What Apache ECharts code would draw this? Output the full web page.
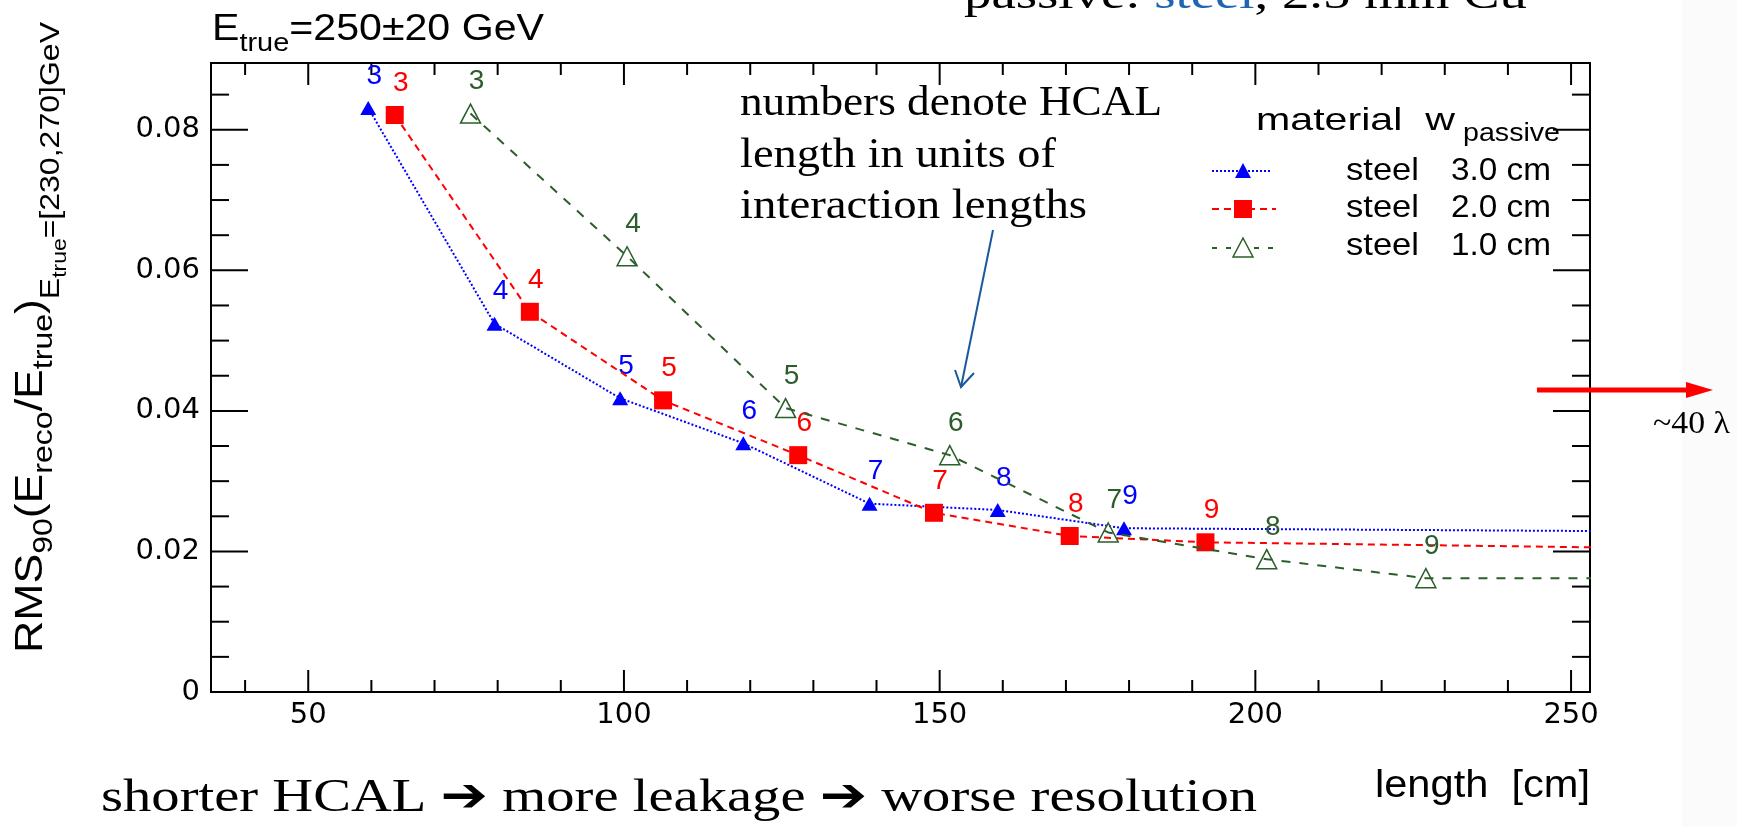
<!DOCTYPE html>
<html><head><meta charset="utf-8">
<script src="https://cdn.jsdelivr.net/npm/echarts@6/dist/echarts.min.js"></script>
<style>html,body{margin:0;padding:0;background:#fff}#c{width:1737px;height:827px}</style>
</head><body><div id="c"></div>
<script>
// ---------------- data ----------------
const lambdas = [3, 4, 5, 6, 7, 8, 9];
const blueX  = [59.5, 79.5, 99.4, 118.9, 138.9, 159.2, 179.2];
const blueY  = [0.0831, 0.0524, 0.0418, 0.0354, 0.0268, 0.0259, 0.0233];
const redX   = [63.7, 85.1, 106.2, 127.6, 149.1, 170.6, 192.1];
const redY   = [0.0821, 0.0541, 0.0415, 0.0337, 0.0255, 0.0222, 0.0213];
const greenX = [75.7, 100.5, 125.6, 151.6, 176.7, 201.8, 227.0];
const greenY = [0.0823, 0.0620, 0.0404, 0.0337, 0.0227, 0.0189, 0.0162];
// ~40 lambda points, far to the right of the visible range
const blueFar  = [798, 0.0200];
const redFar   = [856, 0.0136];
const greenFar = [1009, 0.0160];
const legendMaterial = ['steel', 'steel', 'steel'];
const legendWidth = ['3.0 cm', '2.0 cm', '1.0 cm'];
const X_MIN = 34.6, X_MAX = 253, Y_MIN = 0, Y_MAX = 0.0895;

// ---------------- helpers ----------------
const BLUE = '#0000ff', RED = '#ff0000', GREEN = '#2b5e2b';
const SANS = 'Liberation Sans', SERIF = 'Liberation Serif', AXF = 'DejaVu Sans';
const mctx = document.createElement('canvas').getContext('2d');
function tw(t, size, fam) { mctx.font = size + 'px ' + fam; return mctx.measureText(t).width; }
// parts: {t, s, dy, c, f}; placed along a baseline
function textRun(parts, x0, base, opts) {
  opts = opts || {};
  const fam = opts.f || SANS;
  let widths = parts.map(p => tw(p.t, p.s, p.f || fam));
  const total = widths.reduce((a, b) => a + b, 0);
  const sx = opts.width ? opts.width / total : (opts.sx || 1);
  let cx = x0;
  const out = [];
  parts.forEach((p, i) => {
    out.push({type: 'text', x: cx, y: base + (p.dy || 0) - 0.34 * p.s, scaleX: sx, silent: true,
      style: {text: p.t, fontSize: p.s, fontFamily: p.f || fam, fill: p.c || opts.c || '#000',
              align: 'left', verticalAlign: 'middle'}});
    cx += widths[i] * sx;
  });
  return out;
}

const chart = echarts.init(document.getElementById('c'), null, {renderer: 'canvas'});

function makeSeries(name, xs, ys, far, color, symbol, size, itemStyle, dash, width, z) {
  const data = xs.map((x, i) => ({name: String(lambdas[i]), value: [x, ys[i]]}));
  data.push({name: '', value: far, symbol: 'none', label: {show: false}});
  return {
    type: 'line', name, data, symbol, symbolSize: size, showSymbol: true, z,
    clip: true, animation: false, emphasis: {disabled: true},
    itemStyle: itemStyle,
    lineStyle: {color, width, type: dash},
    label: {show: true, position: 'inside', offset: [6, -32], formatter: '{b}',
            color, fontSize: 28, fontFamily: SANS}
  };
}

// tick marks (ROOT style, inside, on all four sides)
const tickData = [];
for (let v = 40; v <= 250; v += 10) tickData.push([0, v, v % 50 === 0 ? 1 : 0]);
for (let k = 1; k <= 17; k++) tickData.push([1, +(k * 0.005).toFixed(3), k % 4 === 0 ? 1 : 0]);

const st = {stroke: '#000', lineWidth: 2};
const tickSeries = {
  type: 'custom', coordinateSystem: 'cartesian2d', data: tickData, silent: true, z: 1,
  renderItem(params, api) {
    const kind = api.value(0), v = api.value(1), major = api.value(2);
    if (kind === 0) {
      const b = api.coord([v, Y_MIN]), t = api.coord([v, Y_MAX]);
      const L = major ? 22 : 12;
      return {type: 'group', children: [
        {type: 'line', shape: {x1: b[0], y1: b[1], x2: b[0], y2: b[1] - L}, style: st},
        {type: 'line', shape: {x1: t[0], y1: t[1], x2: t[0], y2: t[1] + L}, style: st}]};
    }
    const l = api.coord([X_MIN, v]), r = api.coord([X_MAX, v]);
    const L = major ? 37 : 18;
    return {type: 'group', children: [
      {type: 'line', shape: {x1: l[0], y1: l[1], x2: l[0] + L, y2: l[1]}, style: st},
      {type: 'line', shape: {x1: r[0], y1: r[1], x2: r[0] - L, y2: r[1]}, style: st}]};
  }
};

// ---------------- graphics (texts, legend, arrows) ----------------
const g = [];
g.push({type: 'rect', shape: {x: 1682, y: 0, width: 55, height: 827}, style: {fill: '#fbfbfb'}, z: -10, silent: true});
// top partially cut text
g.push(...textRun([{t: 'passive: ', s: 42}, {t: 'steel', s: 42, c: '#1f66b0'}, {t: ', 2.5 mm Cu', s: 42}], 964, 11, {f: SERIF, width: 563}));
// title
g.push(...textRun([{t: 'E', s: 37}, {t: 'true', s: 26, dy: 11}, {t: '=250\u00b120 GeV', s: 37}], 212, 42, {width: 332}));
// y axis title (rotated)
g.push({type: 'group', x: 45, y: 653, rotation: Math.PI / 2, children: textRun([
  {t: 'RMS', s: 39}, {t: '90', s: 28, dy: 9}, {t: '(E', s: 39}, {t: 'reco', s: 28, dy: 9},
  {t: '/E', s: 39}, {t: 'true', s: 28, dy: 9}, {t: ')', s: 39},
  {t: 'E', s: 28, dy: 16}, {t: 'true', s: 20, dy: 22}, {t: '=[230,270]GeV', s: 28, dy: 16}], 0, 0, {width: 631})});
// x axis title
g.push(...textRun([{t: 'length  [cm]', s: 39}], 1375, 800, {width: 215}));
// bottom text
g.push(...textRun([{t: 'shorter HCAL \u2794 more leakage \u2794 worse resolution', s: 47}], 101, 815, {f: SERIF + ', DejaVu Sans', width: 1156}));
// annotation
g.push(...textRun([{t: 'numbers denote HCAL', s: 42}], 740, 118, {f: SERIF, width: 422}));
g.push(...textRun([{t: 'length in units of', s: 42}], 740, 170, {f: SERIF, width: 316}));
g.push(...textRun([{t: 'interaction lengths', s: 42}], 740, 221, {f: SERIF, width: 347}));
const AB = '#1a5a9a';
g.push({type: 'line', shape: {x1: 993, y1: 230, x2: 961, y2: 387}, style: {stroke: AB, lineWidth: 2}, silent: true});
g.push({type: 'polyline', shape: {points: [[955, 370], [961, 387], [974, 373]]}, style: {stroke: AB, lineWidth: 2, fill: null}, silent: true});
// red arrow on right
g.push({type: 'line', shape: {x1: 1537, y1: 390, x2: 1690, y2: 390}, style: {stroke: '#ff0000', lineWidth: 5}, silent: true, z: 5});
g.push({type: 'polygon', shape: {points: [[1686, 382], [1713, 390], [1686, 398]]}, style: {fill: '#ff0000'}, silent: true, z: 5});
g.push(...textRun([{t: '~40 \u03bb', s: 32}], 1653, 435, {f: SERIF, width: 77}));
// legend
g.push(...textRun([{t: 'material  w', s: 32}], 1256, 132, {width: 199}));
g.push(...textRun([{t: 'passive', s: 25}], 1463, 143, {width: 97}));
const rowY = [171, 209, 248];
const rowBase = [182, 219, 257];
for (let i = 0; i < 3; i++) {
  g.push(...textRun([{t: legendMaterial[i], s: 32}], 1346, rowBase[i], {width: 73}));
  g.push(...textRun([{t: legendWidth[i], s: 32}], 1451, rowBase[i], {width: 100}));
}
g.push({type: 'line', shape: {x1: 1212, y1: rowY[0], x2: 1272, y2: rowY[0]}, style: {stroke: BLUE, lineWidth: 2, lineDash: [2, 2]}, silent: true});
g.push({type: 'polygon', shape: {points: [[1243, rowY[0] - 8], [1235, rowY[0] + 7], [1251, rowY[0] + 7]]}, style: {fill: BLUE}, silent: true});
g.push({type: 'line', shape: {x1: 1212, y1: rowY[1], x2: 1276, y2: rowY[1]}, style: {stroke: RED, lineWidth: 2, lineDash: [7, 5]}, silent: true});
g.push({type: 'rect', shape: {x: 1234, y: rowY[1] - 9, width: 18, height: 18}, style: {fill: RED}, silent: true});
g.push({type: 'line', shape: {x1: 1212, y1: rowY[2], x2: 1276, y2: rowY[2]}, style: {stroke: GREEN, lineWidth: 2, lineDash: [5, 9]}, silent: true});
g.push({type: 'polygon', shape: {points: [[1243, rowY[2] - 10], [1233, rowY[2] + 9], [1253, rowY[2] + 9]]}, style: {fill: '#fff', stroke: GREEN, lineWidth: 1.5}, silent: true});

const option = {
  backgroundColor: '#fff',
  animation: false,
  grid: {left: 211, top: 63, width: 1379, height: 629, show: true, borderColor: '#000', borderWidth: 2,
         backgroundColor: 'transparent', containLabel: false, outerBoundsMode: 'none'},
  xAxis: {type: 'value', min: X_MIN, max: X_MAX,
    axisLine: {show: false}, axisTick: {show: false}, splitLine: {show: false},
    axisLabel: {show: true, margin: 9, fontSize: 29, fontFamily: AXF, color: '#000', showMinLabel: false, showMaxLabel: false}},
  yAxis: {type: 'value', min: Y_MIN, max: Y_MAX, interval: 0.02,
    axisLine: {show: false}, axisTick: {show: false}, splitLine: {show: false},
    axisLabel: {show: true, margin: 11, fontSize: 29, fontFamily: AXF, color: '#000', showMaxLabel: false,
      formatter: v => (v === 0 ? '0' : v.toFixed(2))}},
  series: [
    tickSeries,
    makeSeries('steel 3.0 cm', blueX, blueY, blueFar, BLUE, 'triangle', [16, 14], {color: BLUE}, [2, 2], 2, 3),
    makeSeries('steel 2.0 cm', redX, redY, redFar, RED, 'rect', 18, {color: RED}, [7, 5], 2, 4),
    makeSeries('steel 1.0 cm', greenX, greenY, greenFar, GREEN, 'triangle', [20, 19],
               {color: 'rgba(255,255,255,0)', borderColor: GREEN, borderWidth: 1.5}, [9, 9], 2, 5)
  ],
  graphic: g
};
chart.setOption(option);
</script></body></html>
